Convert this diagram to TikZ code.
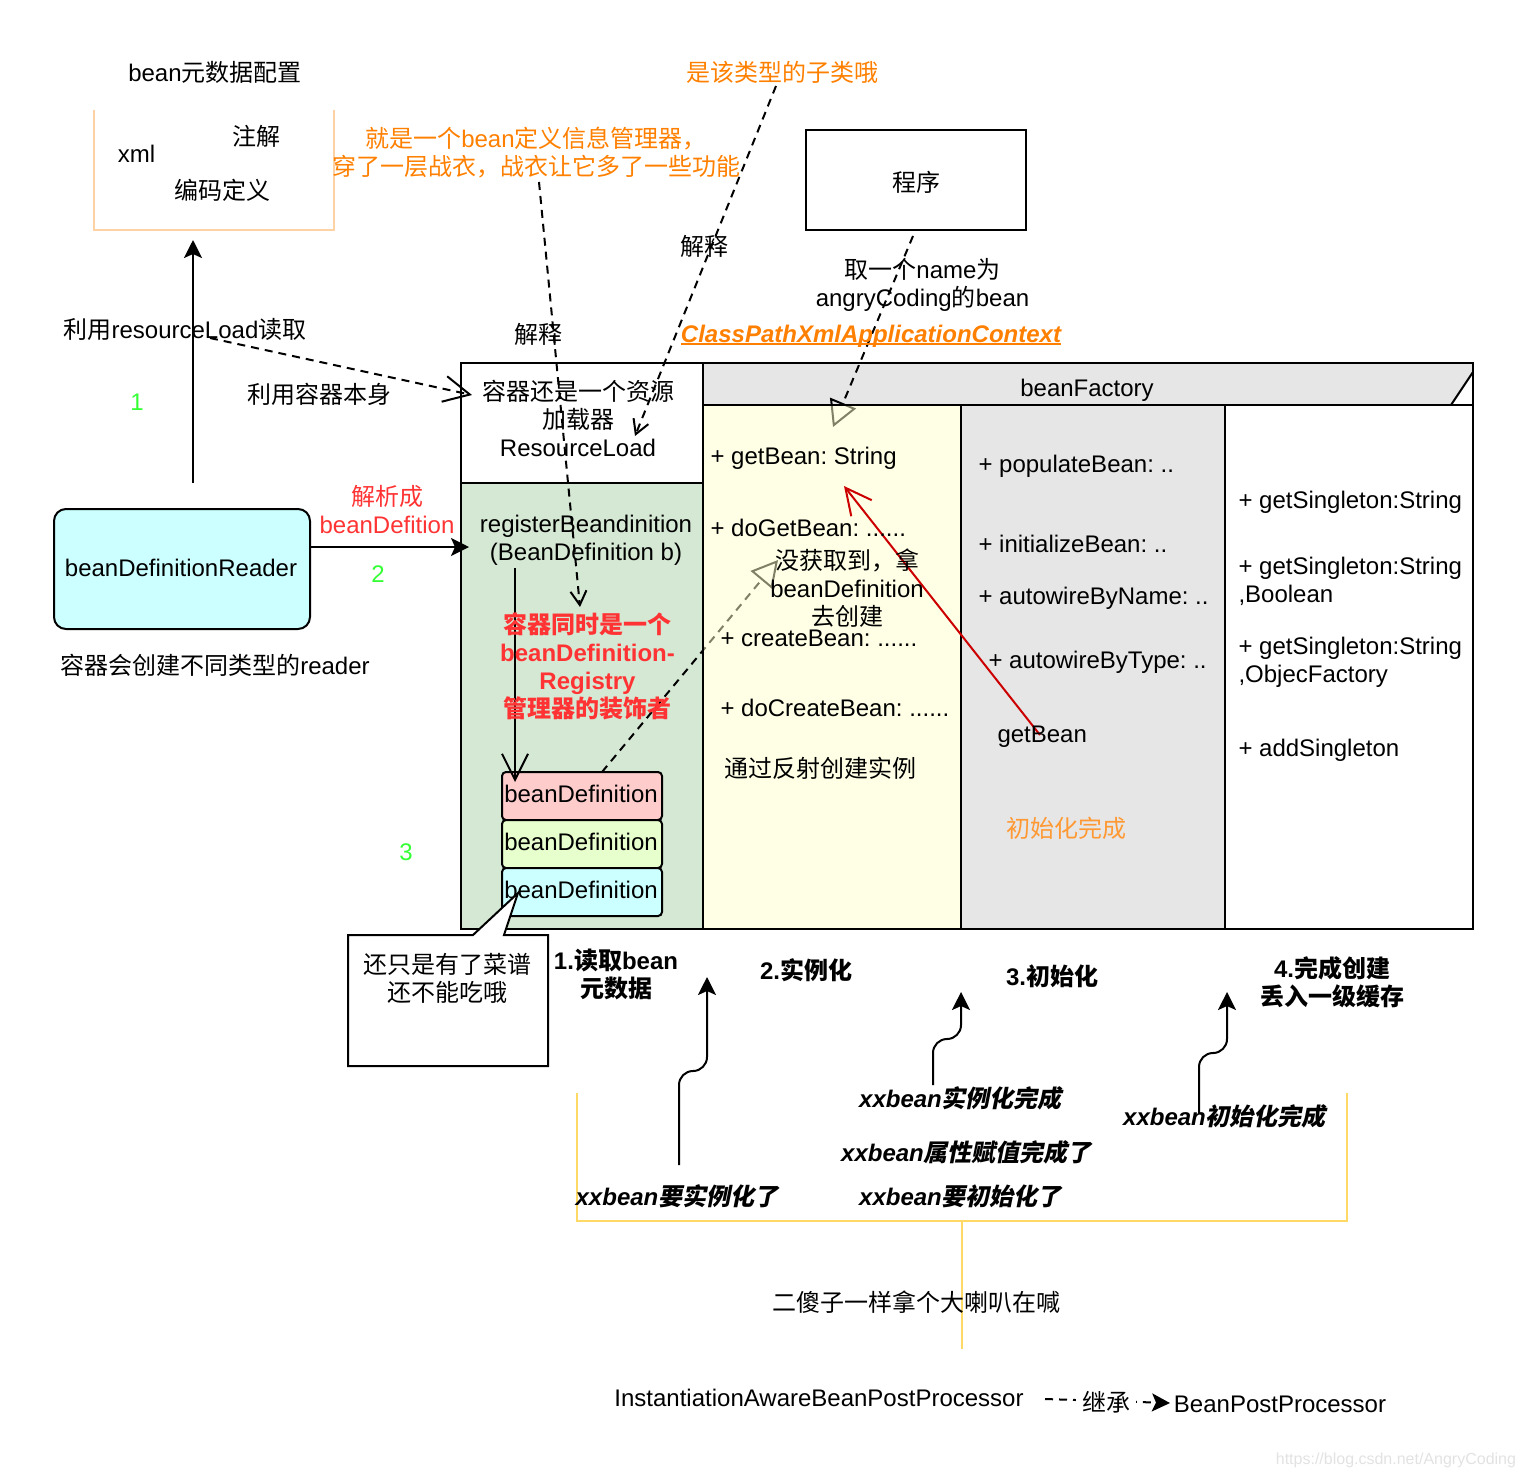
\documentclass[tikz,border=0pt]{standalone}
\usepackage{fontspec}
\usetikzlibrary{arrows.meta}
\setmainfont{Liberation Sans}
\newfontfamily\zhfont{Noto Sans CJK SC}
\newfontfamily\zhslant{Noto Sans CJK SC}[FakeSlant=0.2]
\newcommand{\zh}[1]{{\zhfont #1}}
\newcommand{\zs}[1]{{\zhslant #1}}
\definecolor{peach}{HTML}{FFD2A6}
\definecolor{orangetxt}{HTML}{FF8000}
\definecolor{orangesoft}{HTML}{FF9933}
\definecolor{redtxt}{HTML}{FF3333}
\definecolor{greentxt}{HTML}{33FF33}
\definecolor{hdr}{HTML}{E6E6E6}
\definecolor{cellgreen}{HTML}{D5E8D4}
\definecolor{cellyellow}{HTML}{FFFFCC}
\definecolor{bracket}{HTML}{FFD966}
\definecolor{redline}{HTML}{CC0000}
\tikzset{
  x=0.5pt,y=-0.5pt,
  every node/.style={inner sep=0pt,outer sep=0pt},
  txt/.style={font=\fontsize{12}{14}\selectfont\frenchspacing,align=center,text=black},
  ltxt/.style={font=\fontsize{12}{14}\selectfont\frenchspacing,align=left,anchor=west,text=black,xshift=-0.25pt},
  oneline/.style={text height=9pt,text depth=1pt},
  bi/.style={font=\fontsize{12}{14}\selectfont\bfseries\itshape,align=center,text=black},
  bd/.style={font=\fontsize{12}{14}\selectfont\bfseries,align=center,text=black},
  cell/.style={anchor=north west,rectangle},
  beanbox/.style={draw=black,line width=1pt,rounded corners=2pt,minimum width=80pt,minimum height=24pt,anchor=north west,font=\fontsize{12}{14}\selectfont,text height=8.75pt,text depth=2.75pt},
  conn/.style={line width=1pt,draw=black},
  dashconn/.style={conn,dash pattern=on 4pt off 3pt},
  solidhead/.style={-{Stealth[length=9pt,width=9pt,inset=2pt]}},
  bighead/.style={-{Straight Barb[length=13pt,width=13pt]}},
  smallhead/.style={-{Straight Barb[length=7pt,width=8pt]}},
  trihead/.style={-{Triangle[open,length=13pt,width=14pt,fill=none]}},
}
\begin{document}
\begin{tikzpicture}
\useasboundingbox (0,0) rectangle (1524,1478);
% --- connector end points
\coordinate (resStart) at (193,483);
\coordinate (resEnd) at (193,240);
\coordinate (useStart) at (210,338);
\coordinate (useEnd) at (472,395);
\coordinate (infoStart) at (539,182);
\coordinate (infoEnd) at (580,607);
\coordinate (subStart) at (776,86);
\coordinate (subEnd) at (635,436);
\coordinate (progStart) at (913,236);
\coordinate (progEnd) at (833,427);
\coordinate (defStart) at (602,772);
\coordinate (defEnd) at (778,560);
\coordinate (regStart) at (515,568);
\coordinate (regEnd) at (515,782);
\coordinate (parseStart) at (310,547);
\coordinate (parseEnd) at (469,547);
\coordinate (backStart) at (1040,735);
\coordinate (backEnd) at (844,486);
\coordinate (inhStart) at (1045,1399);
\coordinate (inhEnd) at (1170,1403);
\coordinate (cbA) at (679,1165);
\coordinate (cbB) at (707,977);
\coordinate (cbC) at (933,1085);
\coordinate (cbD) at (961,992);
\coordinate (cbE) at (1199,1113);
\coordinate (cbF) at (1227,992);
% --- fills under the connectors
\path[fill=hdr] (703,363) -- (1473,363) -- (1473,372) -- (1451,405) -- (703,405) -- cycle;
\node[cell,fill=cellgreen,minimum width=121pt,minimum height=223pt] (regCell) at (461,483) {};
\node[cell,fill=hdr,minimum width=132pt,minimum height=262pt] (initCell) at (961,405) {};
% --- connectors that run behind the translucent column
\draw[dashconn,trihead] (progStart) -- (progEnd);
\draw[dashconn,trihead] (defStart) -- (defEnd);
% --- translucent instantiation column
\node[cell,fill=cellyellow,fill opacity=0.5,minimum width=129pt,minimum height=262pt] (instCell) at (703,405) {};
% --- table frame
\draw[conn] (461,363) rectangle (1473,929);
\draw[conn] (703,363) -- (703,929);
\draw[conn] (961,405) -- (961,929);
\draw[conn] (1225,405) -- (1225,929);
\draw[conn] (703,405) -- (1473,405);
\draw[conn] (461,483) -- (703,483);
\draw[conn] (1451,405) -- (1473,372);
% --- bean definition boxes
\node[beanbox,fill=red!20] (bd1) at (502,772) {\hspace{-1pt}beanDefinition};
\node[beanbox,fill={rgb,255:red,230;green,255;blue,204}] (bd2) at (502,820) {\hspace{-1pt}beanDefinition};
\node[beanbox,fill={rgb,255:red,204;green,255;blue,255}] (bd3) at (502,868) {\hspace{-1pt}beanDefinition};
% --- metadata box
\draw[line width=1pt,draw=peach] (94,110) -- (94,230) -- (334,230) -- (334,110);
\node[txt] (lblMeta) at (215,72) {bean\zh{元数据配置}};
\node[txt] (lblXml) at (136.5,154) {xml};
\node[txt] (lblAnn) at (256,136) {\zh{注解}};
\node[txt] (lblCode) at (222,190) {\zh{编码定义}};
% --- program
\node[draw=black,line width=1pt,minimum width=110pt,minimum height=50pt,anchor=north west,font=\fontsize{12}{14}\selectfont] (prog) at (806,130) {\raisebox{-5.5pt}[0pt][0pt]{\zh{程序}}};
% --- reader
\node[draw=black,line width=1pt,rounded corners=6pt,fill={rgb,255:red,204;green,255;blue,255},minimum width=128pt,minimum height=60pt,anchor=north west,font=\fontsize{12}{14}\selectfont,text height=8.75pt,text depth=1.5pt] (reader) at (54,509) {\hspace{-1pt}beanDefinitionReader};
% --- other connectors
\draw[conn,solidhead] (resStart) -- (resEnd);
\draw[conn,solidhead] (parseStart) -- (parseEnd);
\draw[dashconn,bighead] (useStart) -- (useEnd);
\draw[dashconn,smallhead] (infoStart) -- (infoEnd);
\draw[dashconn,smallhead] (subStart) -- (subEnd);
\draw[conn,bighead] (regStart) -- (regEnd);
\draw[line width=1pt,draw=redline,bighead] (backStart) -- (backEnd);
\draw[conn,solidhead,rounded corners=7pt] (cbA) -- (679,1071) -- (707,1071) -- (cbB);
\draw[conn,solidhead,rounded corners=7pt] (cbC) -- (933,1039) -- (961,1039) -- (cbD);
\draw[conn,solidhead,rounded corners=7pt] (cbE) -- (1199,1053) -- (1227,1053) -- (cbF);
% --- callout
\draw[conn,fill=white] (348,935) -- (473,935) -- (518,893) -- (504,935) -- (548,935) -- (548,1066) -- (348,1066) -- cycle;
\node[txt] (lblCall) at (447,978) {\zh{还只是有了菜谱}\\\zh{还不能吃哦}};
% --- bracket
\draw[line width=1pt,draw=bracket] (577,1093) -- (577,1221) -- (1347,1221) -- (1347,1093);
\draw[line width=1pt,draw=bracket] (962,1221) -- (962,1349);
% --- free labels
\node[txt,text=orangetxt] (lblSub) at (782,72) {\zh{是该类型的子类哦}};
\node[txt,text=orangetxt] (lblInfo) at (536,153) {\zh{就是一个}bean\zh{定义信息管理器，}\\\zh{穿了一层战衣，战衣让它多了一些功能}};
\node[txt] (lblEx1) at (704,246) {\zh{解释}};
\node[txt] (lblEx2) at (538,334) {\zh{解释}};
\node[txt] (lblTake) at (922.5,285) {\zh{取一个}name\zh{为}\\angryCoding\zh{的}bean};
\node[txt,font=\fontsize{12}{14}\selectfont\bfseries\itshape,text=orangetxt,anchor=base] (lblCtx) at (871,342) {ClassPathXmlApplicationContext};
\draw[line width=1pt,draw=orangetxt] ([yshift=-1.2pt]lblCtx.base west) -- ([yshift=-1.2pt]lblCtx.base east);
\node[txt] (lblRes) at (185,329) {\zh{利用}resourceLoad\zh{读取}};
\node[txt] (lblSelf) at (319.5,394) {\zh{利用容器本身}};
\node[txt,text=greentxt] (lblOne) at (137,402) {1};
\node[txt,text=greentxt] (lblTwo) at (378,574) {2};
\node[txt,text=greentxt] (lblThree) at (406,852) {3};
\node[txt,text=redtxt] (lblParse) at (387,510) {\zh{解析成}\\beanDefition};
\node[txt] (lblReader) at (215,665) {\zh{容器会创建不同类型的}reader};
% --- table texts
\node[txt] (lblFactory) at (1087,390) {beanFactory};
\node[txt] (lblLoad) at (578,418) {\zh{容器还是一个资源}\\\zh{加载器}\\ResourceLoad};
\node[txt] (lblReg) at (586,540) {registerBeandinition\\(BeanDefinition b)};
\node[bd,text=redtxt] (lblDeco) at (587.5,666) {\zh{容器同时是一个}\\beanDefinition-\\Registry\\\zh{管理器的装饰者}};
\node[ltxt,oneline] (m1) at (711,456) {+ getBean: String};
\node[ltxt,oneline] (m2) at (711,528) {+ doGetBean: ......};
\node[txt] (lblMiss) at (847,588) {\zh{没获取到，拿}\\beanDefinition\\\zh{去创建}};
\node[ltxt,oneline] (m3) at (721,638) {+ createBean: ......};
\node[ltxt,oneline] (m4) at (721,708) {+ doCreateBean: ......};
\node[txt] (lblRefl) at (820,768) {\zh{通过反射创建实例}};
\node[ltxt,oneline] (m5) at (979,464) {+ populateBean: ..};
\node[ltxt,oneline] (m6) at (979,544) {+ initializeBean: ..};
\node[ltxt,oneline] (m7) at (979,596) {+ autowireByName: ..};
\node[ltxt,oneline] (m8) at (989,660) {+ autowireByType: ..};
\node[ltxt,oneline] (m9) at (998,734) {getBean};
\node[txt,text=orangesoft] (lblInit) at (1066,828) {\zh{初始化完成}};
\node[ltxt,oneline] (m10) at (1239,500) {+ getSingleton:String};
\node[ltxt] (m11) at (1239,581) {+ getSingleton:String\\,Boolean};
\node[ltxt] (m12) at (1239,662) {+ getSingleton:String\\,ObjecFactory};
\node[ltxt,oneline] (m13) at (1239,748) {+ addSingleton};
% --- stage headings
\node[bd] (st1) at (616,974) {1.\zh{读取}bean\\\zh{元数据}};
\node[bd] (st2) at (806,970) {2.\zh{实例化}};
\node[bd] (st3) at (1052,976) {3.\zh{初始化}};
\node[bd] (st4) at (1332,982) {4.\zh{完成创建}\\\zh{丢入一级缓存}};
% --- post processor notes
\node[bi] (ev1) at (677,1196) {xxbean\zs{要实例化了}};
\node[bi] (ev2) at (960.5,1098) {xxbean\zs{实例化完成}};
\node[bi] (ev3) at (966.5,1152) {xxbean\zs{属性赋值完成了}};
\node[bi] (ev4) at (960.5,1196) {xxbean\zs{要初始化了}};
\node[bi] (ev5) at (1224.5,1116) {xxbean\zs{初始化完成}};
\node[txt] (lblFool) at (916,1302) {\zh{二傻子一样拿个大喇叭在喊}};
\node[txt] (lblIapp) at (819,1398) {InstantiationAwareBeanPostProcessor};
\node[txt] (lblBpp) at (1280,1404) {BeanPostProcessor};
\draw[dashconn,solidhead] (inhStart) -- (inhEnd);
\node[txt,fill=white,inner xsep=3pt] (lblInh) at (1106,1402) {\zh{继承}};
\node[font=\fontsize{8}{10}\selectfont,text={rgb,255:red,226;green,226;blue,226},anchor=east] (mark) at (1516,1460) {https://blog.csdn.net/AngryCoding};
\end{tikzpicture}
\end{document}
